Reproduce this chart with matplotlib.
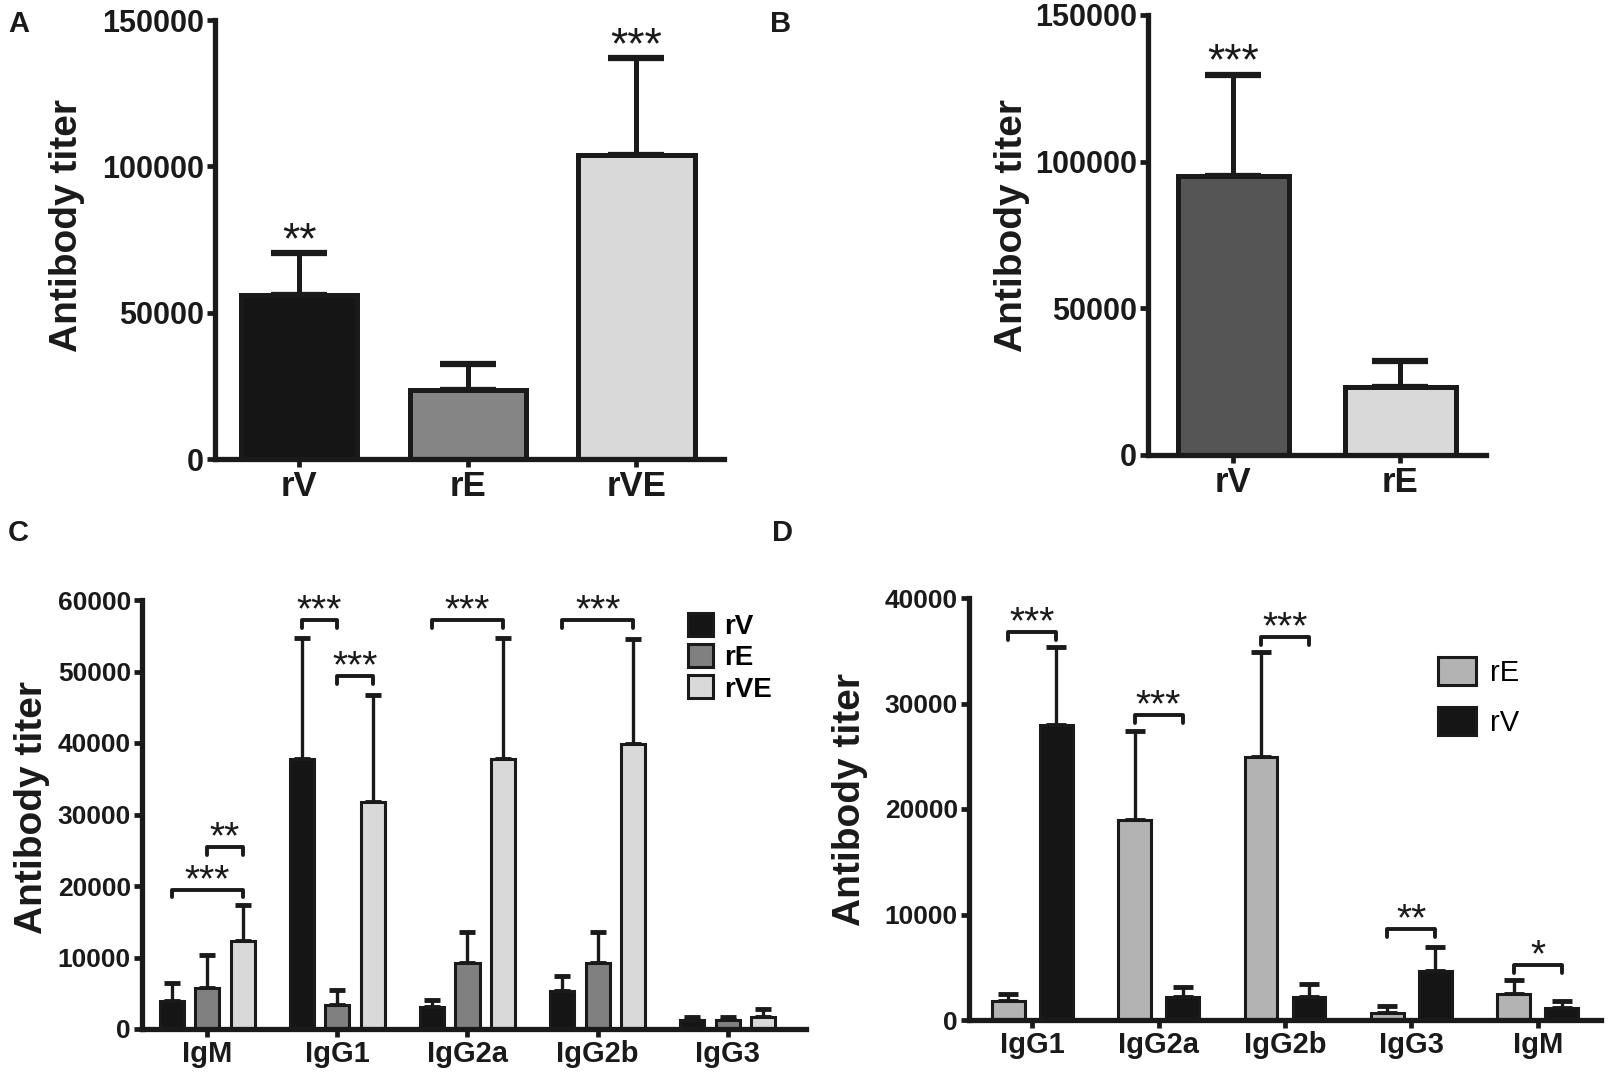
import numpy as np
import matplotlib
matplotlib.use('Agg')
import matplotlib.pyplot as plt
from matplotlib import font_manager

# fonts: narrow bold for numbers if present, Arial-like bold for axis titles
names = set(f.name for f in font_manager.fontManager.ttflist)
NARROW = 'Liberation Sans Narrow' if 'Liberation Sans Narrow' in names else 'Liberation Sans'
WIDE = 'Liberation Sans'

# ---- data ----
# panel A
a_groups = ['rV', 'rE', 'rVE']
a_means = [56000, 23600, 103800]
a_tops = [70400, 32300, 137000]
a_stars = ['**', '', '***']
a_colors = ['#151515', '#858585', '#d9d9d9']

# panel B
b_groups = ['rV', 'rE']
b_means = [95000, 23300]
b_tops = [129600, 31900]
b_stars = ['***', '']
b_colors = ['#555555', '#d9d9d9']

# panel C
c_isotypes = ['IgM', 'IgG1', 'IgG2a', 'IgG2b', 'IgG3']
c_series = ['rV', 'rE', 'rVE']
c_rV = [3900, 37800, 3100, 5300, 1200]
c_rV_top = [6400, 54700, 4100, 7400, 1700]
c_rE = [5800, 3400, 9300, 9300, 1200]
c_rE_top = [10400, 5500, 13600, 13600, 1700]
c_rVE = [12300, 31700, 37700, 39800, 1700]
c_rVE_top = [17300, 46700, 54700, 54600, 2800]
c_colors = ['#151515', '#808080', '#d9d9d9']
# (group, left series, right series, height, label)
c_brackets = [(0, 0, 2, 19500, '***'), (0, 1, 2, 25400, '**'),
              (1, 0, 1, 57200, '***'), (1, 1, 2, 49400, '***'),
              (2, 0, 2, 57200, '***'), (3, 0, 2, 57200, '***')]

# panel D
d_isotypes = ['IgG1', 'IgG2a', 'IgG2b', 'IgG3', 'IgM']
d_series = ['rE', 'rV']
d_rE = [1800, 19000, 24900, 700, 2500]
d_rE_top = [2500, 27400, 34900, 1350, 3800]
d_rV = [28000, 2200, 2200, 4600, 1100]
d_rV_top = [35400, 3100, 3400, 6900, 1800]
d_colors = ['#b3b3b3', '#151515']
d_brackets = [(0, 36800, '***'), (1, 28900, '***'), (2, 36300, '***'),
              (3, 8600, '**'), (4, 5200, '*')]

W, H = 1610, 1075
INK = '#1a1a1a'
fig = plt.figure(figsize=(W / 100, H / 100), dpi=100)


def px_axes(x0, x1, y_top, y_bot):
    # axes from a pixel box of the reference
    return fig.add_axes([x0 / W, 1 - y_bot / H, (x1 - x0) / W, (y_bot - y_top) / H])


def style(ax, lw, ytick_size, xtick_size, ticklen=6):
    for s in ['top', 'right']:
        ax.spines[s].set_visible(False)
    for s in ['left', 'bottom']:
        ax.spines[s].set_linewidth(lw)
        ax.spines[s].set_color(INK)
    ax.tick_params(axis='both', direction='out', length=ticklen, width=lw * 0.9,
                   color=INK, pad=2)
    for lab in ax.get_yticklabels():
        lab.set_fontfamily(NARROW)
        lab.set_fontweight('bold')
        lab.set_fontsize(ytick_size)
        lab.set_color(INK)
    for lab in ax.get_xticklabels():
        lab.set_fontfamily(NARROW)
        lab.set_fontweight('bold')
        lab.set_fontsize(xtick_size)
        lab.set_color(INK)


def stars(ax, xv, yv, label, size, off):
    # asterisk glyphs sit high in the em box, so anchor on the baseline
    ax.annotate(label, (xv, yv), xytext=(0, off), textcoords='offset points',
                ha='center', va='baseline', fontsize=size, family=WIDE, color=INK)


def simple_panel(ax, groups, means, tops, marks, colors, width, xlim):
    x = np.arange(len(groups))
    ax.bar(x, means, width=width, color=colors, edgecolor=INK, linewidth=3.6, zorder=2)
    ax.errorbar(x, means, yerr=[np.zeros(len(x)), np.array(tops) - np.array(means)],
                fmt='none', ecolor=INK, elinewidth=3.6, capsize=20, capthick=4.5, zorder=1)
    for xi, top, s in zip(x, tops, marks):
        if s:
            stars(ax, xi, top, s, 32, 0)
    ax.set_xlim(*xlim)
    ax.set_ylim(0, 150000)
    ax.set_yticks([0, 50000, 100000, 150000])
    ax.set_xticks(x)
    ax.set_xticklabels(groups)
    style(ax, 3.8, 22, 25)


# ---- panel A ----
ax = px_axes(215, 724, 20, 459)
simple_panel(ax, a_groups, a_means, a_tops, a_stars, a_colors, 0.69, (-0.5, 2.52))

# ---- panel B ----
ax = px_axes(1148, 1486, 15, 455)
simple_panel(ax, b_groups, b_means, b_tops, b_stars, b_colors, 0.665, (-0.51, 1.515))


def bracket(ax, x0, x1, y, drop, label):
    ax.plot([x0, x0, x1, x1], [y - drop, y, y, y - drop], color=INK, lw=2.8,
            solid_capstyle='round', solid_joinstyle='round', zorder=3)
    stars(ax, (x0 + x1) / 2, y, label, 28, -1)


# ---- panel C ----
ax = px_axes(142, 806, 600, 1029)
x = np.arange(len(c_isotypes))
c_offsets = [-0.273, 0, 0.273]
c_vals = [c_rV, c_rE, c_rVE]
c_tops = [c_rV_top, c_rE_top, c_rVE_top]
for i, name in enumerate(c_series):
    xs = x + c_offsets[i]
    ax.bar(xs, c_vals[i], width=0.185, color=c_colors[i], edgecolor=INK,
           linewidth=2.2, zorder=2, label=name)
    ax.errorbar(xs, c_vals[i], yerr=[np.zeros(len(x)), np.array(c_tops[i]) - np.array(c_vals[i])],
                fmt='none', ecolor=INK, elinewidth=2.4, capsize=6, capthick=3.5, zorder=1)
for g, l, r, y, s in c_brackets:
    bracket(ax, x[g] + c_offsets[l], x[g] + c_offsets[r], y, 1100, s)
ax.set_xlim(-0.5, 4.6)
ax.set_ylim(0, 60000)
ax.set_yticks(np.arange(0, 60001, 10000))
ax.set_xticks(x)
ax.set_xticklabels(c_isotypes)
style(ax, 3.8, 19, 21)
ax.legend(loc='upper left', bbox_to_anchor=(0.822, 0.97), frameon=False,
          borderpad=0, borderaxespad=0,
          handlelength=0.9, handleheight=0.9, handletextpad=0.4, labelspacing=0.15,
          prop={'family': NARROW, 'weight': 'bold', 'size': 20})

# ---- panel D ----
ax = px_axes(969, 1601, 598, 1020)
x = np.arange(len(d_isotypes))
d_offsets = [-0.19, 0.19]
d_vals = [d_rE, d_rV]
d_tops = [d_rE_top, d_rV_top]
for i, name in enumerate(d_series):
    xs = x + d_offsets[i]
    ax.bar(xs, d_vals[i], width=0.26, color=d_colors[i], edgecolor=INK,
           linewidth=2.2, zorder=2, label=name)
    ax.errorbar(xs, d_vals[i], yerr=[np.zeros(len(x)), np.array(d_tops[i]) - np.array(d_vals[i])],
                fmt='none', ecolor=INK, elinewidth=2.4, capsize=7, capthick=3.5, zorder=1)
for g, y, s in d_brackets:
    bracket(ax, x[g] + d_offsets[0], x[g] + d_offsets[1], y, 750, s)
ax.set_xlim(-0.5, 4.5)
ax.set_ylim(0, 40000)
ax.set_yticks(np.arange(0, 40001, 10000))
ax.set_xticks(x)
ax.set_xticklabels(d_isotypes)
style(ax, 3.8, 19, 21)
ax.legend(loc='upper left', bbox_to_anchor=(0.742, 0.86), frameon=False,
          borderpad=0, borderaxespad=0,
          handlelength=1.3, handleheight=1.1, handletextpad=0.5, labelspacing=0.7,
          prop={'family': NARROW, 'size': 21})

# ---- y labels and panel letters ----
for xp, yp in [(67, 226), (1012, 226), (32, 807), (850, 800)]:
    fig.text(xp / W, 1 - yp / H, 'Antibody titer', rotation=90, ha='center', va='center',
             fontsize=28, fontweight='bold', family=WIDE, color=INK)
for lab, xp, yp in [('A', 8, 10), ('B', 770, 10), ('C', 8, 519), ('D', 772, 519)]:
    fig.text(xp / W, 1 - yp / H, lab, ha='left', va='top', fontsize=21,
             fontweight='bold', family=WIDE, color=INK)

fig.savefig('out.png', dpi=100)
